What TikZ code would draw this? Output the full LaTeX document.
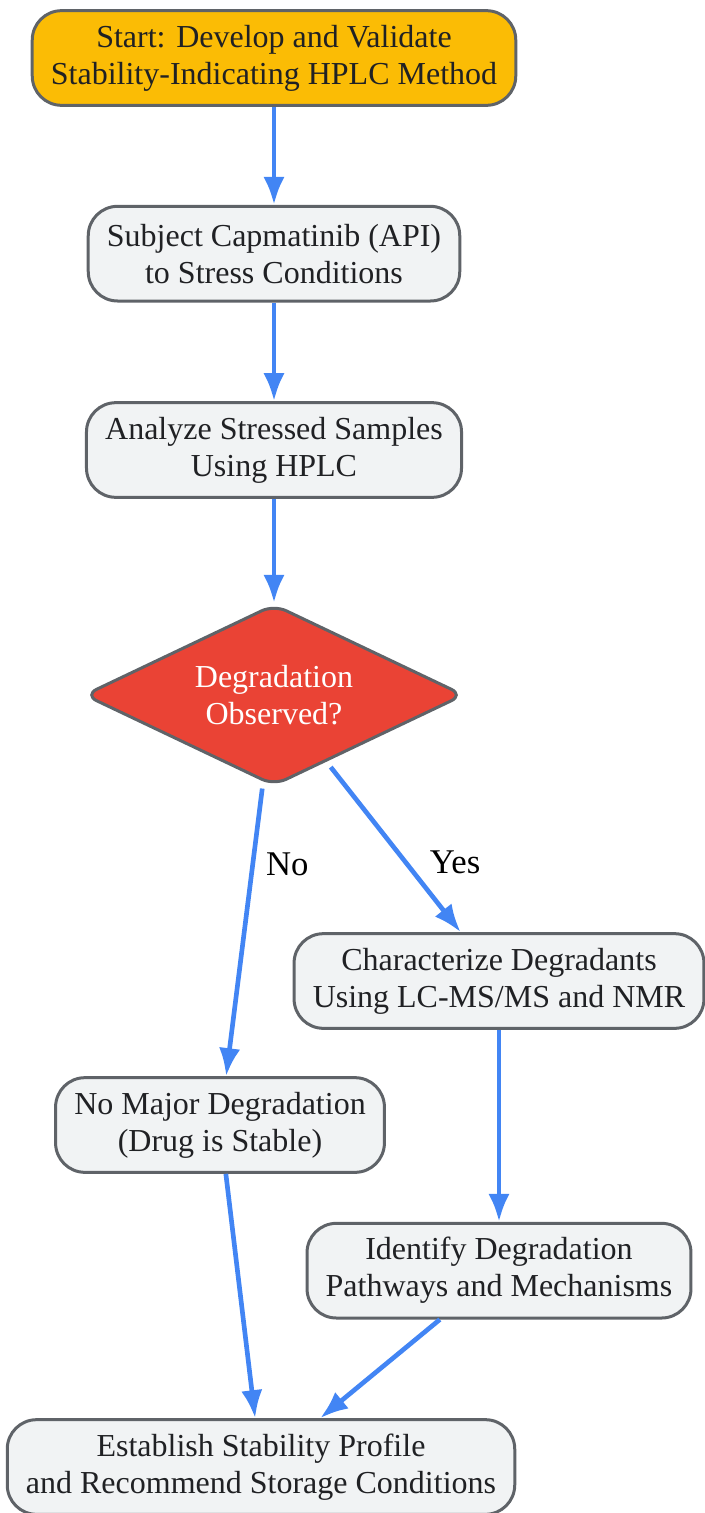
\documentclass[tikz,border=0pt]{standalone}
\usepackage{fontspec}
\setmainfont{Liberation Serif}
\usepackage{tikz}
\usetikzlibrary{positioning,shapes,arrows.meta}
\definecolor{gyellow}{HTML}{FBBC05}
\definecolor{gred}{HTML}{EA4335}
\definecolor{gblue}{HTML}{4285F4}
\definecolor{lgray}{HTML}{F1F3F4}
\definecolor{dgray}{HTML}{5F6368}
\definecolor{txt}{HTML}{202124}
\tikzstyle{pr}=[%
      rectangle, rounded corners=22pt, draw=dgray, line width=2.25pt, fill=lgray, text=txt,
      align=center, minimum height=71pt, inner xsep=14pt
]
\tikzstyle{st}=[%
      pr, fill=gyellow
]
\tikzstyle{dec}=[%
      diamond, aspect=2, rounded corners=10pt, draw=dgray, line width=2.25pt, fill=gred, text=white,
      align=center, minimum width=285pt, minimum height=136pt, inner sep=0pt
]
\tikzstyle{fl}=[%
      draw=gblue, line width=3.5pt, -{Latex[length=21pt,width=16pt]}
]
\tikzstyle{lb}=[%
      text=black, font=\fontsize{26pt}{30pt}\selectfont
]
\begin{document}
\begin{tikzpicture}[x=0.75pt, y=-0.75pt, auto,
    font=\fontsize{24pt}{27.75pt}\selectfont
  ]
    \useasboundingbox (0,0) rectangle (705,1513);

    \node[st]  (s)                  at (274,58)  {Start: Develop and Validate\\Stability-Indicating HPLC Method};
    \node[pr]  (sub) [below=73.5pt of s]         {Subject Capmatinib (API)\\to Stress Conditions};
    \node[pr]  (ana) [below=74pt of sub]         {Analyze Stressed Samples\\Using HPLC};
    \node[dec] (deg) [below=78pt of ana]         {Degradation\\Observed?};
    \node[pr]  (no)                 at (220,1125) {No Major Degradation\\(Drug is Stable)};
    \node[pr]  (ch)                 at (499,981)  {Characterize Degradants\\Using LC-MS/MS and NMR};
    \node[pr]  (id)  [below=144pt of ch]          {Identify Degradation\\Pathways and Mechanisms};
    \node[pr]  (est)                at (261,1467) {Establish Stability Profile\\and Recommend Storage Conditions};

    \path[fl] (s) edge[fl] (sub)
          (sub) edge[fl] (ana)
          (ana) edge[fl] (deg)
          (deg) edge[fl, shorten <=5pt] node[lb, pos=0.28, right=5pt] {No} (no)
          (deg) edge[fl, shorten <=5pt] node[lb, pos=0.59, right=13pt] {Yes} (ch)
          (ch) edge[fl] (id)
          (no) edge[fl] (est)
          (id) edge[fl] (est)
    ;

  \end{tikzpicture}
\end{document}
